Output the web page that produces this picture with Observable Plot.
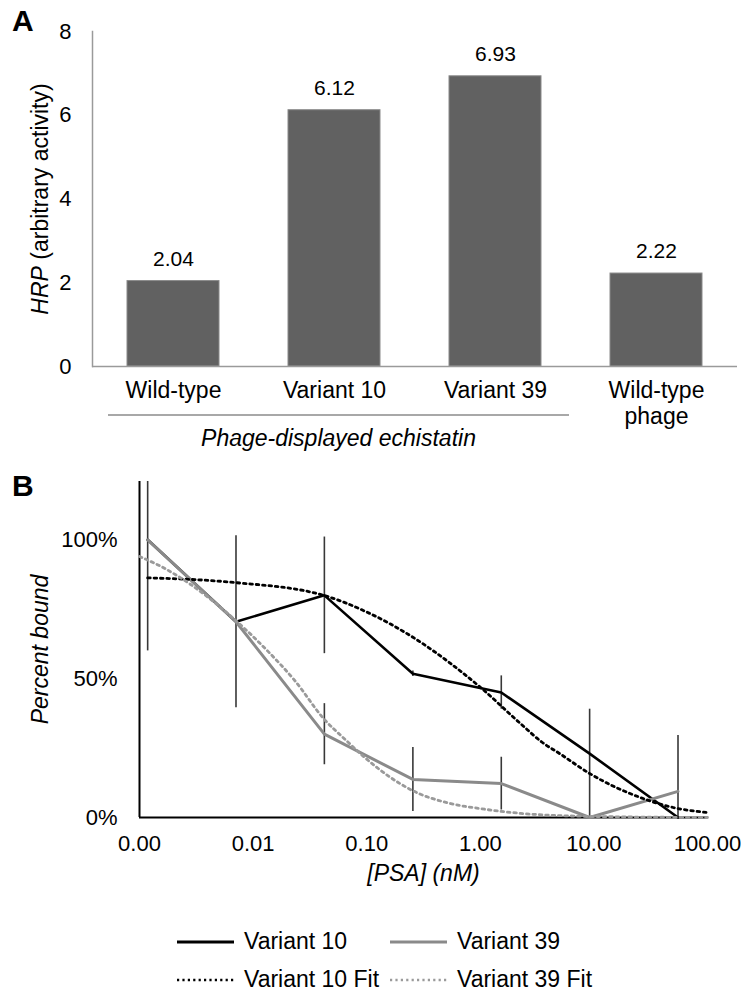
<!DOCTYPE html>
<html><head><meta charset="utf-8">
<script src="https://cdn.jsdelivr.net/npm/d3@7"></script>
<script src="https://cdn.jsdelivr.net/npm/@observablehq/plot@0.6"></script>
<style>
body{margin:0;background:#fff;font-family:"Liberation Sans",Arial,Helvetica,sans-serif;color:#000;}
#wrap{position:relative;width:743px;height:993px;overflow:hidden;}
.abs{position:absolute;}
.panel{position:absolute;left:0;}
.lab{position:absolute;font-weight:bold;font-size:30px;line-height:30px;}
.leg{position:absolute;font-size:23px;line-height:23px;white-space:nowrap;}
</style></head><body><div id="wrap"></div>
<script>
// ---------- Panel A data ----------
const categories = ["Wild-type", "Variant 10", "Variant 39", "Wild-type\nphage"];
const hrpValues = [2.04, 6.12, 6.93, 2.22];
const hrpTicks = [0, 2, 4, 6, 8];

// ---------- Panel B data ----------
const psaConc = [0.00118, 0.00707, 0.0424, 0.255, 1.53, 9.17, 55];
const v10Bound = [1.00, 0.705, 0.80, 0.518, 0.45, 0.23, 0.0];
const v10Err   = [null, 0.31, 0.21, 0.01, 0.06, null, 0.295];
const v39Bound = [1.00, 0.705, 0.30, 0.137, 0.122, 0.0, 0.094];
const v39Err   = [0.40, null, 0.11, 0.115, 0.095, 0.39, null];

const v10FitConc  = [0.00118, 0.0070, 0.0418, 0.10, 0.253, 0.55, 1.0, 2.26, 3.5, 5.0, 9.2, 25.6, 49.8, 100];
const v10FitBound = [0.863, 0.846, 0.80, 0.74, 0.65, 0.554, 0.469, 0.338, 0.271, 0.23, 0.158, 0.072, 0.036, 0.018];
const v39FitConc  = [0.001, 0.00153, 0.0028, 0.0070, 0.0134, 0.0236, 0.0418, 0.065, 0.10, 0.253, 0.55, 1.0, 2.26, 9.2, 100];
const v39FitBound = [0.94, 0.905, 0.84, 0.71, 0.60, 0.49, 0.356, 0.28, 0.21, 0.097, 0.05, 0.032, 0.015, 0.004, 0.0];

const psaTicks = [0.001, 0.01, 0.1, 1, 10, 100];
const boundTicks = [0, 0.5, 1];

const legendItems = ["Variant 10", "Variant 39", "Variant 10 Fit", "Variant 39 Fit"];
const groupLabel = "Phage-displayed echistatin";

const FONT = "'Liberation Sans', Arial, Helvetica, sans-serif";
const wrap = document.getElementById("wrap");
const ns = "http://www.w3.org/2000/svg";

// ---------- Panel A ----------
const barData = categories.map((c, i) => ({cat: c, v: hrpValues[i]}));
const A = Plot.plot({
  width: 743, height: 460,
  marginLeft: 92, marginRight: 6, marginTop: 31, marginBottom: 94,
  style: {fontFamily: FONT, fontSize: "23px", color: "#000", background: "transparent", overflow: "visible"},
  x: {domain: categories, paddingInner: 0.43, paddingOuter: 0.215, label: null},
  y: {domain: [0, 8], label: null},
  marks: [
    Plot.barY(barData, {x: "cat", y: "v", fill: "#616161", stroke: "#8a8a8a", strokeWidth: 1}),
    Plot.ruleY([0], {stroke: "#9a9a9a", strokeWidth: 1.5}),
    Plot.frame({anchor: "left", stroke: "#9a9a9a", strokeWidth: 1.5}),
    Plot.axisY({ticks: hrpTicks, tickSize: 0, tickPadding: 21, fontSize: 22, label: null}),
    Plot.axisX({tickSize: 0, tickPadding: 13, fontSize: 23, lineHeight: 1.12, label: null}),
    Plot.text(barData, {x: "cat", y: "v", text: d => d.v.toFixed(2), dy: -22, fontSize: 21}),
    Plot.text(["HRP (arbitrary activity)"], {frameAnchor: "left", textAnchor: "middle", dx: -52, rotate: -90, fontSize: 23})
  ]
});
A.classList.add("panel");
A.style.top = "0px";
A.querySelectorAll("text").forEach(t => {
  if (t.textContent === "HRP (arbitrary activity)") {
    t.textContent = "";
    const s1 = document.createElementNS(ns, "tspan");
    s1.setAttribute("font-style", "italic");
    s1.textContent = "HRP";
    const s2 = document.createElementNS(ns, "tspan");
    s2.textContent = " (arbitrary activity)";
    t.append(s1, s2);
  }
});
wrap.appendChild(A);

// bracket + group label under first three categories
const br = document.createElement("div");
br.className = "abs";
Object.assign(br.style, {left: "108px", top: "414px", width: "461px", height: "2px", background: "#a8a8a8"});
wrap.appendChild(br);
const gl = document.createElement("div");
gl.className = "abs";
gl.textContent = groupLabel;
Object.assign(gl.style, {left: "108px", width: "461px", top: "426px", textAlign: "center", fontStyle: "italic", fontSize: "23px", lineHeight: "24px"});
wrap.appendChild(gl);

// ---------- Panel B ----------
const series = (conc, vals, errs, name) => conc.map((x, i) => ({x, y: vals[i], e: errs ? errs[i] : null, s: name}));
const v10 = series(psaConc, v10Bound, v10Err, "Variant 10");
const v39 = series(psaConc, v39Bound, v39Err, "Variant 39");
const v10Fit = series(v10FitConc, v10FitBound, null, "Variant 10 Fit");
const v39Fit = series(v39FitConc, v39FitBound, null, "Variant 39 Fit");
const errs = [...v10, ...v39].filter(d => d.e != null);

const B = Plot.plot({
  width: 743, height: 440,
  marginLeft: 139, marginRight: 36, marginTop: 21, marginBottom: 83,
  style: {fontFamily: FONT, fontSize: "22px", color: "#000", background: "transparent", overflow: "visible"},
  x: {type: "log", domain: [0.001, 100], label: null},
  y: {domain: [0, 1.21], label: null},
  marks: [
    Plot.ruleY([0], {stroke: "#000", strokeWidth: 2}),
    Plot.ruleX([0.001], {stroke: "#000", strokeWidth: 2}),
    Plot.ruleX(errs, {x: "x", y1: d => d.y - d.e, y2: d => d.y + d.e, stroke: "#383838", strokeWidth: 1.6, clip: true}),
    Plot.line(v10, {x: "x", y: "y", stroke: "#000", strokeWidth: 2.6}),
    Plot.line(v39, {x: "x", y: "y", stroke: "#8a8a8a", strokeWidth: 3}),
    Plot.line(v10Fit, {x: "x", y: "y", curve: "monotone-x", stroke: "#000", strokeWidth: 2.8, strokeDasharray: "2.6 3.8"}),
    Plot.line(v39Fit, {x: "x", y: "y", curve: "monotone-x", stroke: "#9a9a9a", strokeWidth: 2.8, strokeDasharray: "2.6 3.8"}),
    Plot.axisX({ticks: psaTicks, tickFormat: d => d.toFixed(2), tickSize: 0, tickPadding: 18, fontSize: 22, label: null}),
    Plot.axisY({ticks: boundTicks, tickFormat: d3.format(".0%"), tickSize: 0, tickPadding: 22, fontSize: 22, label: null}),
    Plot.text(["[PSA] (nM)"], {frameAnchor: "bottom", dy: 63, fontStyle: "italic", fontSize: 23}),
    Plot.text(["Percent bound"], {frameAnchor: "left", textAnchor: "middle", dx: -99, rotate: -90, fontStyle: "italic", fontSize: 23})
  ]
});
B.classList.add("panel");
B.style.top = "460px";
wrap.appendChild(B);

// ---------- Panel letters ----------
[["A", 12, 6], ["B", 12, 471]].forEach(([t, l, tp]) => {
  const d = document.createElement("div");
  d.className = "lab"; d.textContent = t;
  d.style.left = l + "px"; d.style.top = tp + "px";
  wrap.appendChild(d);
});

// ---------- Legend ----------
const legStyles = [
  {stroke: "#000", dash: null, width: 3},
  {stroke: "#8a8a8a", dash: null, width: 3.2},
  {stroke: "#000", dash: "2.2 3.2", width: 2.6},
  {stroke: "#9a9a9a", dash: "2.2 3.2", width: 2.6}
];
const legPos = [[177, 942], [390, 942], [177, 980], [390, 980]];
legendItems.forEach((name, i) => {
  const [lx, ly] = legPos[i];
  const s = document.createElementNS(ns, "svg");
  s.setAttribute("width", 58); s.setAttribute("height", 10);
  s.style.position = "absolute"; s.style.left = lx + "px"; s.style.top = (ly - 5) + "px";
  const ln = document.createElementNS(ns, "line");
  ln.setAttribute("x1", 0); ln.setAttribute("x2", 57); ln.setAttribute("y1", 5); ln.setAttribute("y2", 5);
  ln.setAttribute("stroke", legStyles[i].stroke); ln.setAttribute("stroke-width", legStyles[i].width);
  if (legStyles[i].dash) ln.setAttribute("stroke-dasharray", legStyles[i].dash);
  s.appendChild(ln);
  wrap.appendChild(s);
  const t = document.createElement("div");
  t.className = "leg"; t.textContent = name;
  t.style.left = (lx + 67) + "px"; t.style.top = (ly - 12) + "px";
  wrap.appendChild(t);
});
</script></body></html>
